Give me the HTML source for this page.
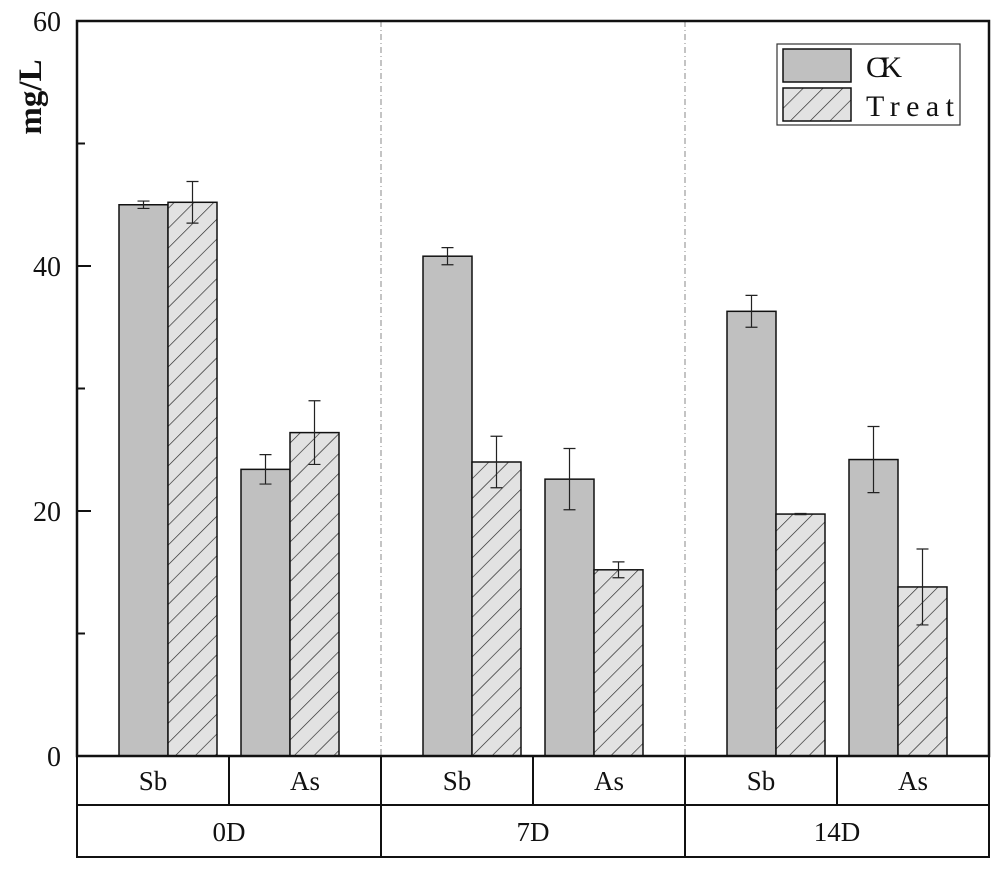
<!DOCTYPE html>
<html><head><meta charset="utf-8"><style>
body{margin:0;background:#fff}
svg text{font-family:"Liberation Serif",serif;fill:#111}
</style></head><body>
<svg id="chart" width="1000" height="869" viewBox="0 0 1000 869">
<defs>
<pattern id="hatch" patternUnits="userSpaceOnUse" width="14" height="14" patternTransform="rotate(45)">
<rect width="14" height="14" fill="#e2e2e2"/>
<line x1="0" y1="0" x2="0" y2="14" stroke="#222" stroke-width="1.3"/>
</pattern>
</defs>
<g id="plot"></g>
</svg>
<script>
const groups = ["0D","7D","14D"];
const elements = ["Sb","As"];
const ckValues = [45.0, 23.4, 40.8, 22.6, 36.3, 24.2];
const ckErrors = [0.3, 1.2, 0.7, 2.5, 1.3, 2.7];
const treatValues = [45.2, 26.4, 24.0, 15.2, 19.75, 13.8];
const treatErrors = [1.7, 2.6, 2.1, 0.65, 0.05, 3.1];
const yTicks = [0, 20, 40, 60];

const NS = "http://www.w3.org/2000/svg";
const g = document.getElementById("plot");
const L = 77, R = 989, T = 21, B = 756;
const y = v => B - (v / 60) * (B - T);
const groupW = (R - L) / groups.length;
const slotW = groupW / elements.length;
const pairSpacing = 122;
const barW = 49;
function mk(tag, attrs, parent) {
  const e = document.createElementNS(NS, tag);
  for (const k in attrs) e.setAttribute(k, attrs[k]);
  (parent || g).appendChild(e);
  return e;
}
for (let i = 1; i < groups.length; i++) {
  const sep = mk("line", {x1: L + i * groupW, x2: L + i * groupW, y1: T, y2: B, stroke: "#888", "stroke-width": 1, "stroke-dasharray": "6,3,1,3"});
  
  
}
for (let i = 0; i < ckValues.length; i++) {
  const gi = Math.floor(i / elements.length), ei = i % elements.length;
  const cx = L + (gi + 0.5) * groupW + (ei - 0.5) * pairSpacing;
  const series = [[ckValues[i], ckErrors[i], "#c0c0c0", "ck"], [treatValues[i], treatErrors[i], "url(#hatch)", "treat"]];
  series.forEach((s, j) => {
    const x0 = cx - barW + j * barW;
    const r = mk("rect", {x: x0, y: y(s[0]), width: barW, height: B - y(s[0]), fill: s[2], stroke: "#111", "stroke-width": 1.5});
    
    
    const mx = x0 + barW / 2, hi = y(s[0] + s[1]), lo = y(s[0] - s[1]);
    const eb = mk("path", {d: `M${mx},${hi}V${lo}M${mx-6},${hi}H${mx+6}M${mx-6},${lo}H${mx+6}`, stroke: "#222", "stroke-width": 1.2, fill: "none"});
    
    
  });
}
const frame = mk("rect", {x: L, y: T, width: R - L, height: B - T, fill: "none", stroke: "#111", "stroke-width": 2.5});


yTicks.forEach(t => {
  const tk = mk("line", {x1: L, x2: L + 14, y1: y(t), y2: y(t), stroke: "#111", "stroke-width": 2});
  
  
  const tx = mk("text", {x: 61, y: y(t) + 10, "text-anchor": "end", "font-size": 28});
  tx.textContent = t;
  
  
});
for (let t = 10; t < 60; t += 20) {
  const mt = mk("line", {x1: L, x2: L + 8, y1: y(t), y2: y(t), stroke: "#111", "stroke-width": 2});
  
  
}
const yt = mk("text", {x: 0, y: 0, transform: "translate(41,97) rotate(-90)", "text-anchor": "middle", "font-size": 33, "font-weight": "bold"});
yt.textContent = "mg/L";


const tbl = mk("path", {d: `M${L},${B}V857H${R}V${B}M${L},805H${R}`, stroke: "#111", "stroke-width": 2, fill: "none"});


for (let i = 1; i < ckValues.length; i++) {
  const ln = mk("line", {x1: L + i * slotW, x2: L + i * slotW, y1: B, y2: i % 2 === 0 ? 857 : 805, stroke: "#111", "stroke-width": 2});
  
  
}
for (let i = 0; i < ckValues.length; i++) {
  const tx = mk("text", {x: L + (i + 0.5) * slotW, y: 790, "text-anchor": "middle", "font-size": 27});
  tx.textContent = elements[i % 2];
  
  
}
groups.forEach((gn, i) => {
  const tx = mk("text", {x: L + (i + 0.5) * groupW, y: 841, "text-anchor": "middle", "font-size": 27});
  tx.textContent = gn;
  
  
});
const lg = mk("g", {});


mk("rect", {x: 777, y: 44, width: 183, height: 81, fill: "#fff", stroke: "#333", "stroke-width": 1.2}, lg);
const s1 = mk("rect", {x: 783, y: 49, width: 68, height: 33, fill: "#c0c0c0", stroke: "#111", "stroke-width": 1.5}, lg);


const s2 = mk("rect", {x: 783, y: 88, width: 68, height: 33, fill: "url(#hatch)", stroke: "#111", "stroke-width": 1.5}, lg);


const l1 = mk("text", {x: 866, y: 77, "font-size": 30, "font-family": "Liberation Mono, monospace", textLength: 36}, lg);
l1.textContent = "CK";


const l2 = mk("text", {x: 866, y: 116, "font-size": 30, "font-family": "Liberation Mono, monospace", textLength: 88}, lg);
l2.textContent = "Treat";


</script>
</body></html>
